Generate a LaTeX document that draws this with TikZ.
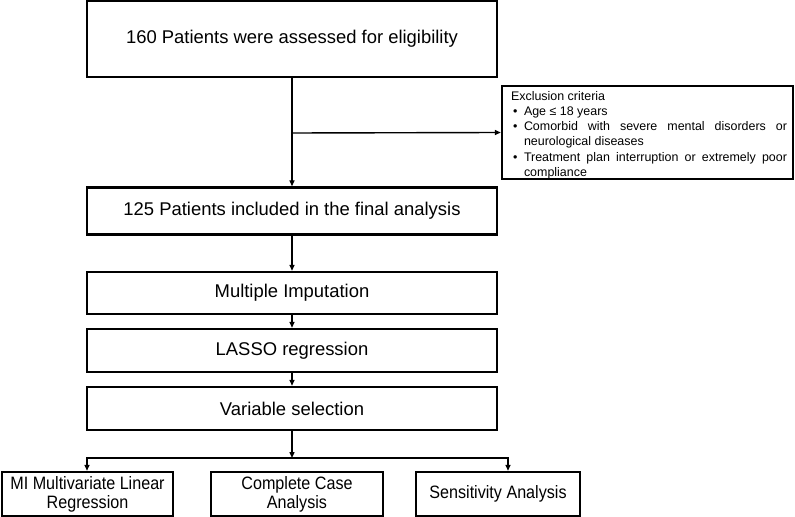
\documentclass[tikz,border=0pt]{standalone}
\usepackage{fontspec}
\setmainfont{Liberation Sans}
\newfontfamily\narrowfont[FakeStretch=0.9]{Liberation Sans}
\usetikzlibrary{arrows.meta}
\begin{document}
\begin{tikzpicture}[x=1bp,y=-1bp,
  box/.style={draw, line width=2.4bp, minimum width=410bp, inner sep=0pt, font=\fontsize{18.5}{22}\selectfont},
  subbox/.style={draw, line width=2.4bp, inner sep=0pt, align=center, minimum height=44bp, font=\narrowfont\fontsize{18}{19}\selectfont},
  conn/.style={line width=1.4bp, -{Triangle[length=6bp,width=5bp]}},
  plain/.style={line width=1.4bp, line cap=rect}]
\useasboundingbox (0,0) rectangle (795,517);

\node[box, minimum height=76bp] (b1) at (292,39) {160 Patients were assessed for eligibility};
\node[box, minimum height=47bp] (b2) at (292,211) {125 Patients included in the final analysis};
\node[box, minimum height=42bp] (b3) at (292,293) {Multiple Imputation};
\node[box, minimum height=43bp] (b4) at (292,350.5) {LASSO regression};
\node[box, minimum height=43bp] (b5) at (292,408.5) {Variable selection};

\node[draw, line width=2.4bp, minimum width=291bp, minimum height=93bp, inner sep=0pt] (excl) at (647.5,132.5) {};
\node[inner sep=0pt] (exclt) at (649,135) {%
\begin{minipage}{276bp}\fontsize{12.5}{15.3}\selectfont\setlength{\parindent}{0pt}\hyphenpenalty=10000\exhyphenpenalty=10000%
Exclusion criteria\par
\hangindent=13bp\hangafter=1\makebox[13bp][l]{\hspace{2bp}•}Age ≤ 18 years\par
\hangindent=13bp\hangafter=1\makebox[13bp][l]{\hspace{2bp}•}Comorbid with severe mental disorders or neurological diseases\par
\hangindent=13bp\hangafter=1\makebox[13bp][l]{\hspace{2bp}•}Treatment plan interruption or extremely poor compliance\par
\end{minipage}};

\node[subbox, minimum width=171bp] (bA) at (87.5,494) {MI Multivariate Linear\\Regression};
\node[subbox, minimum width=172bp] (bB) at (297,494) {Complete Case\\Analysis};
\node[subbox, minimum width=164bp] (bC) at (498,494) {Sensitivity Analysis};

\coordinate (br) at (292,133);
\coordinate (sp) at (292,458);
\coordinate (spL) at (87,458);
\coordinate (spR) at (508,458);

\draw[conn] (b1.south) -- (b2.north);
\draw[conn] (br) -- (excl.west);
\draw[conn] (b2.south) -- (b3.north);
\draw[conn] (b3.south) -- (b4.north);
\draw[conn] (b4.south) -- (b5.north);
\draw[conn] (b5.south) -- (sp);
\draw[plain] (spL) -- (spR);
\draw[conn] (spL) -- (spL |- bA.north);
\draw[conn] (spR) -- (spR |- bC.north);
\end{tikzpicture}
\end{document}
